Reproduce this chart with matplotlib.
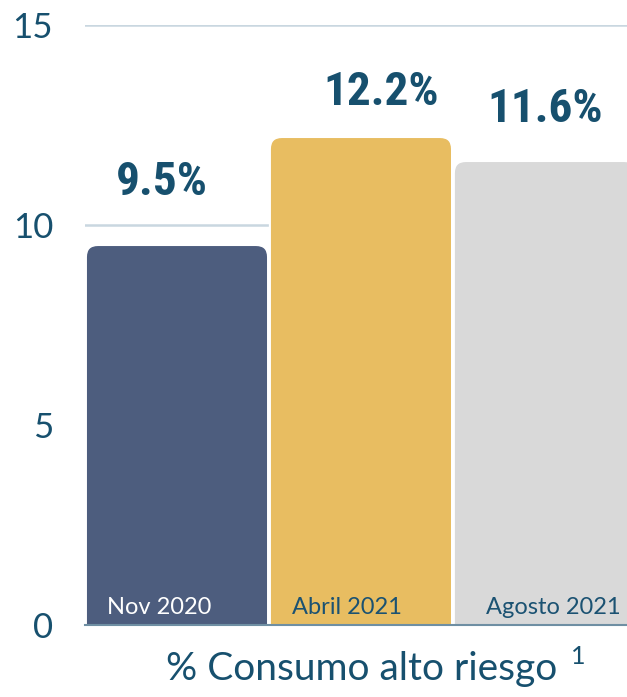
import matplotlib
matplotlib.use('Agg')
from matplotlib import pyplot as plt
from matplotlib import font_manager
from matplotlib.patches import FancyBboxPatch

categories = ['Nov 2020', 'Abril 2021', 'Agosto 2021']
values = [9.5, 12.2, 11.6]
value_labels = ['9.5%', '12.2%', '11.6%']
bar_colors = ['#4d5d7e', '#e8bd61', '#d9d9d9']
cat_colors = ['#ffffff', '#1b5272', '#1b5272']
yticks = [0, 5, 10, 15]

# hand placed nudges (px) like in the original graphic
val_dx = [-15, 20, 0]
val_dy = [50, 32, 39]
cat_dx = [-18, -14, 8]

teal = '#17506e'
names = set(f.name for f in font_manager.fontManager.ttflist)
narrow = 'DejaVu Sans'
for n in ['Roboto Condensed', 'Liberation Sans Narrow', 'DejaVu Sans Condensed']:
    if n in names:
        narrow = n
        break
base = 'Lato' if 'Lato' in names else 'DejaVu Sans'

fig = plt.figure(figsize=(6.27, 6.97), dpi=100)
ax = fig.add_axes([85 / 627, 72 / 697, 1 - 85 / 627, 600 / 697])
ax.set_xlim(-0.5, 2.446)
ax.set_ylim(0, 15)

# px per unit, for the rounded tops
px_x = (627 - 85) / 2.946
px_y = 600 / 15
bars = ax.bar(range(3), values, width=0.99, color=bar_colors)
for b in bars:
    x0, w, h = b.get_x(), b.get_width(), b.get_height()
    b.set_visible(False)
    p = FancyBboxPatch((x0, -1), w, h + 1,
                       boxstyle='round,pad=0,rounding_size=%f' % (12 / px_x),
                       mutation_aspect=px_x / px_y,
                       facecolor=b.get_facecolor(), edgecolor='white',
                       linewidth=1.5, zorder=3)
    ax.add_patch(p)

pt = 72 / 100
for i, v in enumerate(values):
    ax.annotate(value_labels[i], (i, v), xytext=(val_dx[i] * pt, val_dy[i] * pt),
                textcoords='offset points', ha='center', va='baseline',
                fontsize=34, fontweight='bold', color=teal,
                family=[narrow, 'DejaVu Sans'], zorder=5)
    ax.annotate(categories[i], (i, 0), xytext=(cat_dx[i] * pt, 11 * pt),
                textcoords='offset points', ha='center', va='baseline',
                fontsize=17, color=cat_colors[i], family=base, zorder=5)

ax.set_yticks(yticks)
ax.set_yticklabels([str(t) for t in yticks], fontsize=25, color=teal, family=base)
ax.tick_params(axis='y', length=0, pad=23)
ax.set_xticks([])
ax.grid(axis='y', color='#c9d7e0', linewidth=1.8, zorder=0)
ax.set_axisbelow(True)
for s in ['top', 'right', 'left']:
    ax.spines[s].set_visible(False)
ax.spines['bottom'].set_color('#6f8fa3')
ax.spines['bottom'].set_linewidth(1.5)
ax.spines['bottom'].set_zorder(6)

fig.text(362 / 627, 17 / 697, '% Consumo alto riesgo', ha='center', va='baseline',
         fontsize=28, color=teal, family=base)
fig.text(578 / 627, 33 / 697, '1', ha='center', va='baseline',
         fontsize=18, color=teal, family=base)

fig.savefig('out.png', dpi=100)
